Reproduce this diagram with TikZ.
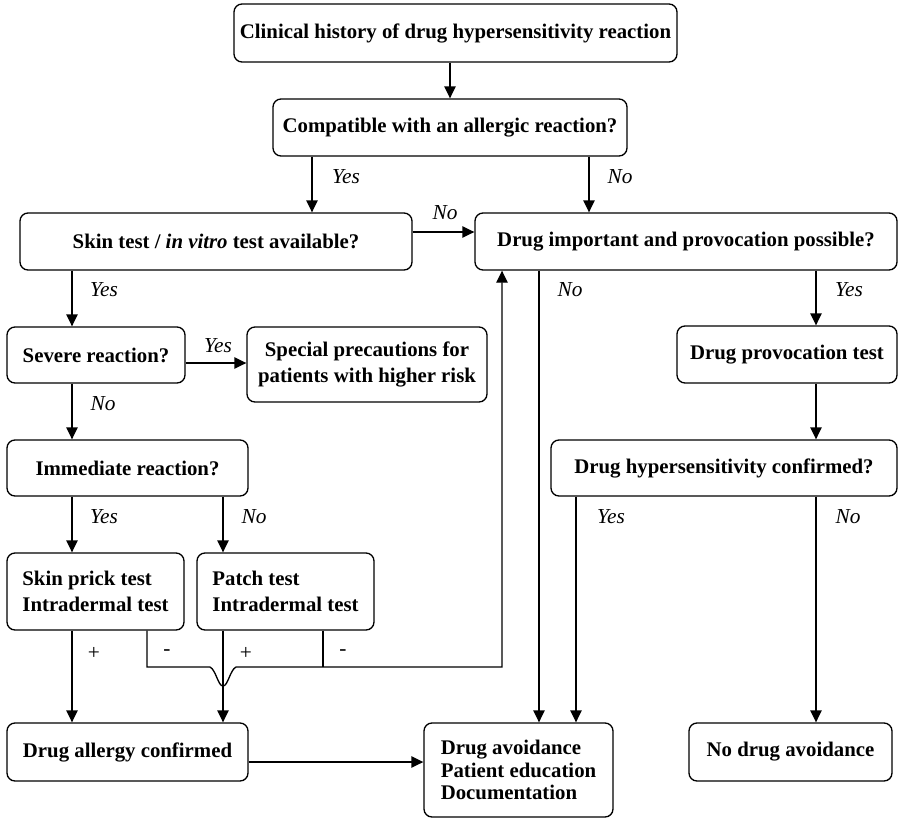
\documentclass[tikz,border=0pt]{standalone}
\usepackage{fontspec}
\setmainfont{Liberation Serif}
\usetikzlibrary{arrows.meta}
\begin{document}
\begin{tikzpicture}[x=0.75pt,y=-0.75pt,
  box/.style={draw, line width=1pt, rounded corners=6pt, inner sep=0pt,
    font=\fontsize{15.6}{19.5}\selectfont\bfseries, align=center},
  arr/.style={line width=1pt, -{Triangle[length=9pt,width=8.5pt]}},
  ln/.style={line width=1pt},
  lab/.style={font=\fontsize{16}{18}\selectfont\itshape, inner sep=0pt},
  sg/.style={font=\fontsize{16}{18}\selectfont, inner sep=0pt}]
\useasboundingbox (0,0) rectangle (899,818);

% boxes
\node[box, minimum width=332.25pt, minimum height=43.5pt] (hist) at (455.5,33) {Clinical history of drug hypersensitivity reaction};
\node[box, minimum width=265.5pt, minimum height=42.75pt] (compat) at (450,127.5) {Compatible with an allergic reaction?};
\node[box, minimum width=294pt, minimum height=42.75pt] (skin) at (216,241.5) {Skin test / \textit{in vitro} test available?};
\node[box, minimum width=316.5pt, minimum height=42.75pt] (imp) at (686,241.5) {Drug important and provocation possible?};
\node[box, minimum width=133.5pt, minimum height=42pt] (severe) at (96,355) {Severe reaction?};
\node[box, minimum width=180pt, minimum height=56.25pt] (spec) at (367,364.5) {Special precautions for\\patients with higher risk};
\node[box, minimum width=165pt, minimum height=42.75pt] (prov) at (787,354.5) {Drug provocation test};
\node[box, minimum width=180.75pt, minimum height=42pt] (immed) at (127.5,468) {Immediate reaction?};
\node[box, minimum width=259.5pt, minimum height=42pt] (hyper) at (724,468) {Drug hypersensitivity confirmed?};
\node[box, align=left, minimum width=132.75pt, minimum height=57.75pt] (prick) at (95.5,591.5) {Skin prick test\\Intradermal test};
\node[box, align=left, minimum width=132.75pt, minimum height=57.75pt] (patch) at (285.5,591.5) {Patch test\\Intradermal test};
\node[box, minimum width=180.75pt, minimum height=43.5pt] (allergy) at (127.5,752) {Drug allergy confirmed};
\node[box, align=left, font=\fontsize{15.6}{17}\selectfont\bfseries, minimum width=141.75pt, minimum height=70.5pt] (avoid) at (518.5,770) {Drug avoidance\\Patient education\\Documentation};
\node[box, minimum width=152.25pt, minimum height=43.5pt] (noavoid) at (790.5,752) {No drug avoidance};

% helper columns and rows
\coordinate (xa) at (72,0);
\coordinate (xb) at (147,0);
\coordinate (xc) at (223,0);
\coordinate (xd) at (312,0);
\coordinate (xe) at (323,0);
\coordinate (xf) at (502,0);
\coordinate (xg) at (539,0);
\coordinate (xh) at (576,0);
\coordinate (xi) at (589,0);
\coordinate (xj) at (816,0);
\coordinate (ya) at (0,232);
\coordinate (yb) at (0,363);
\coordinate (yc) at (0,667);
\coordinate (yd) at (0,762);
\coordinate (hopL) at (210,667);
\coordinate (hopB) at (223,686);
\coordinate (hopR) at (236,667);

% connectors
\draw[arr] (hist.south -| compat.north) -- (compat.north);
\draw[arr] (compat.south -| xd) -- (skin.north -| xd);
\draw[arr] (compat.south -| xi) -- (imp.north -| xi);
\draw[arr] (skin.east |- ya) -- (imp.west |- ya);
\draw[arr] (skin.south -| xa) -- (severe.north -| xa);
\draw[arr] (severe.east |- yb) -- (spec.west |- yb);
\draw[arr] (severe.south -| xa) -- (immed.north -| xa);
\draw[arr] (immed.south -| xa) -- (prick.north -| xa);
\draw[arr] (immed.south -| xc) -- (patch.north -| xc);
\draw[arr] (prick.south -| xa) -- (allergy.north -| xa);
\draw[arr] (patch.south -| xc) -- (allergy.north -| xc);
\draw[arr] (prick.south -| xb) -- (xb |- yc) -- (hopL)
  .. controls (216,670) and (218,686) .. (hopB)
  .. controls (228,686) and (230,670) .. (hopR)
  -- (xf |- yc) -- (imp.south -| xf);
\draw[ln] (patch.south -| xe) -- (xe |- yc);
\draw[arr] (imp.south -| xg) -- (avoid.north -| xg);
\draw[arr] (imp.south -| xj) -- (prov.north -| xj);
\draw[arr] (prov.south -| xj) -- (hyper.north -| xj);
\draw[arr] (hyper.south -| xh) -- (avoid.north -| xh);
\draw[arr] (hyper.south -| xj) -- (noavoid.north -| xj);
\draw[arr] (allergy.east |- yd) -- (avoid.west |- yd);

% labels
\node[lab] (l1) at (346,177) {Yes};
\node[lab] (l2) at (620,177) {No};
\node[lab] (l3) at (445,213) {No};
\node[lab] (l4) at (104,290) {Yes};
\node[lab] (l5) at (218,346) {Yes};
\node[lab] (l6) at (103,404) {No};
\node[lab] (l7) at (570,290) {No};
\node[lab] (l8) at (849,290) {Yes};
\node[lab] (l9) at (104,517) {Yes};
\node[lab] (l10) at (254,517) {No};
\node[lab] (l11) at (611,517) {Yes};
\node[lab] (l12) at (848,517) {No};
\node[sg] (s1) at (94,653) {+};
\node[sg] (s2) at (167,653) {-};
\node[sg] (s3) at (246,653) {+};
\node[sg] (s4) at (343,653) {-};
\end{tikzpicture}
\end{document}
